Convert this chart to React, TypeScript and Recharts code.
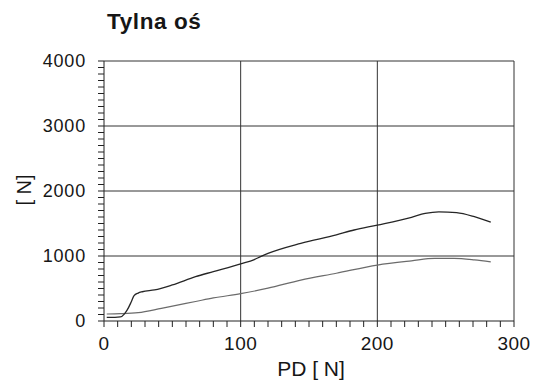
import { LineChart, Line, XAxis, YAxis, ReferenceLine } from "recharts"

// PD [N] vs axle force [N]
const upperX = [2, 8, 12, 15, 17, 20, 22, 25, 28, 37, 50, 67, 80, 100, 110, 115, 120, 144, 170, 183, 200, 225, 235, 245, 258, 271, 283]
const upperY = [57, 57, 62, 110, 170, 297, 390, 430, 450, 478, 555, 682, 760, 880, 945, 995, 1040, 1195, 1325, 1400, 1475, 1595, 1655, 1680, 1668, 1605, 1520]

const lowerX = [2, 12, 25, 42, 67, 80, 100, 120, 144, 170, 200, 225, 242, 256, 271, 283]
const lowerY = [108, 112, 128, 195, 300, 355, 420, 505, 630, 735, 860, 925, 962, 962, 940, 910]

const xMajor = [0, 100, 200, 300]
const yMajor = [0, 1000, 2000, 3000, 4000]
const xGrid = [100, 200, 300]
const yGrid = [1000, 2000, 3000, 4000]
const xMinorStep = 10
const yMinorStep = 100

const xTicks = Array.from({ length: 300 / xMinorStep + 1 }, (_, i) => i * xMinorStep)
const yTicks = Array.from({ length: 4000 / yMinorStep + 1 }, (_, i) => i * yMinorStep)

const upperData = upperX.map((x, i) => ({ x, y: upperY[i] }))
const lowerData = lowerX.map((x, i) => ({ x, y: lowerY[i] }))

const font = '"Liberation Sans", Arial, sans-serif'
const ink = "#161616"

const XTick = (props: any) => {
  const { x, y, payload } = props
  if (!xMajor.includes(payload.value)) return <g />
  return (
    <text x={x} y={y} dy="0.71em" textAnchor="middle" fontSize={19} fill={ink} fontFamily={font} letterSpacing={0.5}>
      {payload.value}
    </text>
  )
}

const YTick = (props: any) => {
  const { x, y, payload } = props
  if (!yMajor.includes(payload.value)) return <g />
  return (
    <text x={x} y={y} dy="0.355em" textAnchor="end" fontSize={18} fill={ink} fontFamily={font} letterSpacing={0.8}>
      {payload.value}
    </text>
  )
}

export default function App() {
  return (
    <div style={{ position: "absolute", left: 0, top: 0, width: 536, height: 383, background: "#fff", fontFamily: font, color: ink }}>
      <div style={{ position: "absolute", left: 107, top: 11, fontSize: 22.5, fontWeight: 700, lineHeight: 1, whiteSpace: "nowrap", letterSpacing: 0.6 }}>
        Tylna oś
      </div>
      <LineChart width={536} height={383} data={upperData} margin={{ top: 61, right: 22, left: 44, bottom: 22 }}>
        <XAxis
          dataKey="x"
          type="number"
          domain={[0, 300]}
          ticks={xTicks}
          interval={0}
          tick={<XTick />}
          tickSize={6}
          tickMargin={10}
          height={40}
          stroke="#222"
          allowDataOverflow
        />
        <YAxis
          type="number"
          domain={[0, 4000]}
          ticks={yTicks}
          interval={0}
          tick={<YTick />}
          tickSize={6}
          tickMargin={12}
          width={60}
          stroke="#222"
          allowDataOverflow
        />
        {yGrid.map(v => (
          <ReferenceLine key={"h" + v} y={v} stroke="#333" strokeWidth={1} />
        ))}
        {xGrid.map(v => (
          <ReferenceLine key={"v" + v} x={v} stroke="#333" strokeWidth={1} />
        ))}
        <Line data={lowerData} dataKey="y" type="monotone" stroke="#6b6b6b" strokeWidth={1.2} dot={false} isAnimationActive={false} />
        <Line data={upperData} dataKey="y" type="monotone" stroke="#262626" strokeWidth={1.3} dot={false} isAnimationActive={false} />
      </LineChart>
      <div style={{ position: "absolute", left: 24, top: 190, transform: "translate(-50%, -50%) rotate(-90deg)", fontSize: 20, lineHeight: 1, whiteSpace: "nowrap" }}>
        [ N]
      </div>
      <div style={{ position: "absolute", left: 311, top: 368, transform: "translate(-50%, -50%)", fontSize: 21, lineHeight: 1, whiteSpace: "nowrap" }}>
        PD [ N]
      </div>
    </div>
  )
}
